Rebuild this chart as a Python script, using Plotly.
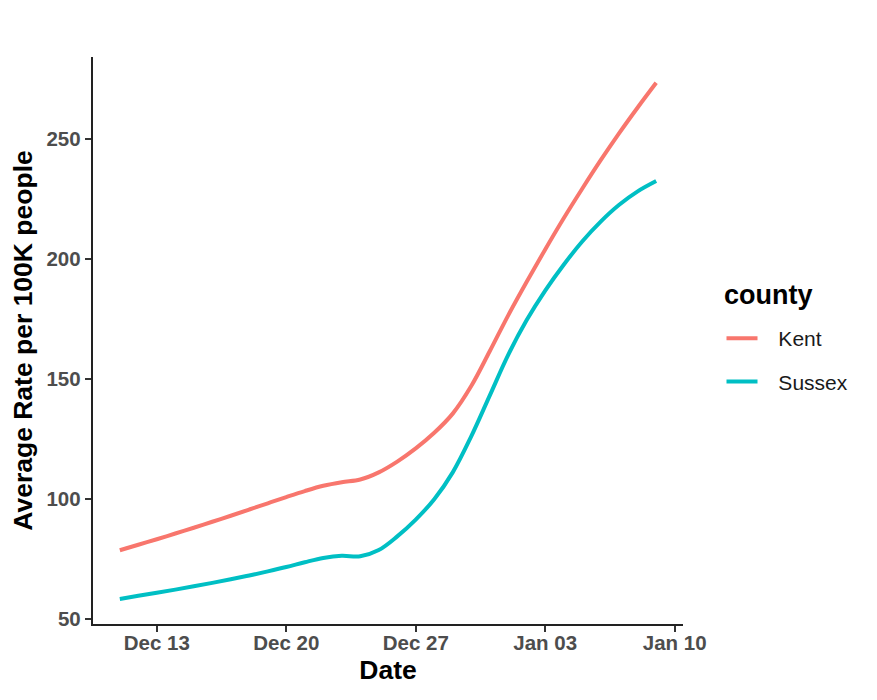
import plotly.graph_objects as go
import pandas as pd

# ---- data ----
dates = pd.date_range("2020-12-11", "2021-01-09", freq="D")
kent = [78.5, 80.8, 83.1, 85.5, 87.9, 90.4, 92.9, 95.5, 98.1, 100.7,
        103.2, 105.4, 106.9, 108.0, 111.0, 115.5, 121.0, 127.5, 135.5, 147.0,
        161.5, 176.5, 190.5, 204.0, 217.0, 229.3, 241.2, 252.5, 263.2, 273.5]
sussex = [58.2, 59.5, 60.8, 62.1, 63.5, 64.9, 66.4, 68.0, 69.7, 71.5,
          73.5, 75.3, 76.2, 76.0, 78.6, 84.3, 91.3, 99.8, 111.0, 126.0,
          143.0, 160.0, 174.5, 186.8, 197.6, 207.3, 215.6, 222.6, 228.2, 232.5]
series_names = ["Kent", "Sussex"]
series_colors = ["#F8766D", "#00BFC4"]
x_tickvals = ["2020-12-13", "2020-12-20", "2020-12-27", "2021-01-03", "2021-01-10"]
x_ticktext = ["Dec 13", "Dec 20", "Dec 27", "Jan 03", "Jan 10"]
y_tickvals = [50, 100, 150, 200, 250]

FONT = "Liberation Sans, Arial, Helvetica, sans-serif"

# page body has an 8px default margin; figure sized to fit the 877x700 window
W, H = 869, 692
ML, MR, MT, MB = 85, 194, 49, 76
PW, PH = W - ML - MR, H - MT - MB

fig = go.Figure()
for name, vals, col in zip(series_names, [kent, sussex], series_colors):
    fig.add_trace(go.Scatter(
        x=dates, y=vals, mode="lines", name="\u00a0\u00a0\u2009" + name, legendgroup=name,
        line=dict(color=col, width=4, shape="spline", smoothing=1.0),
    ))

fig.update_layout(
    width=W, height=H,
    margin=dict(l=ML, r=MR, t=MT, b=MB),
    paper_bgcolor="white", plot_bgcolor="white",
    font=dict(family=FONT),
    showlegend=True,
    legend=dict(
        x=(713.5 - ML) / PW, xanchor="left", y=(H - MB - 310) / PH, yanchor="top",
        font=dict(family=FONT, size=21, color="#1a1a1a"),
        itemwidth=31, tracegroupgap=13,
        bgcolor="rgba(0,0,0,0)",
    ),
    annotations=[dict(
        text="county", xref="paper", yref="paper",
        x=(714.0 - ML) / PW, y=(H - MB - 287) / PH,
        xanchor="left", yanchor="middle", showarrow=False,
        font=dict(family=FONT, size=27, color="black", weight="bold"),
    )],
)

fig.update_xaxes(
    range=["2020-12-09 13:12", "2021-01-10 10:48"],
    tickvals=x_tickvals, ticktext=x_ticktext,
    showgrid=False, zeroline=False, automargin=False,
    showline=True, linecolor="#222222", linewidth=2.4,
    ticks="outside", ticklen=6, tickwidth=2, tickcolor="#333333",
    ticklabelstandoff=-7,
    tickfont=dict(family=FONT, size=20.5, color="#4D4D4D", weight="bold"),
    title=dict(text="Date", standoff=8,
               font=dict(family=FONT, size=26.5, color="black", weight="bold")),
)
fig.update_yaxes(
    range=[47.75, 284.25],
    tickvals=y_tickvals,
    showgrid=False, zeroline=False, automargin=False,
    showline=True, linecolor="#222222", linewidth=2.4,
    ticks="outside", ticklen=6, tickwidth=2, tickcolor="#333333",
    tickfont=dict(family=FONT, size=20.5, color="#4D4D4D", weight="bold"),
    title=dict(text="Average Rate per 100K people", standoff=9,
               font=dict(family=FONT, size=26.5, color="black", weight="bold")),
)

fig.write_html("out.html")
